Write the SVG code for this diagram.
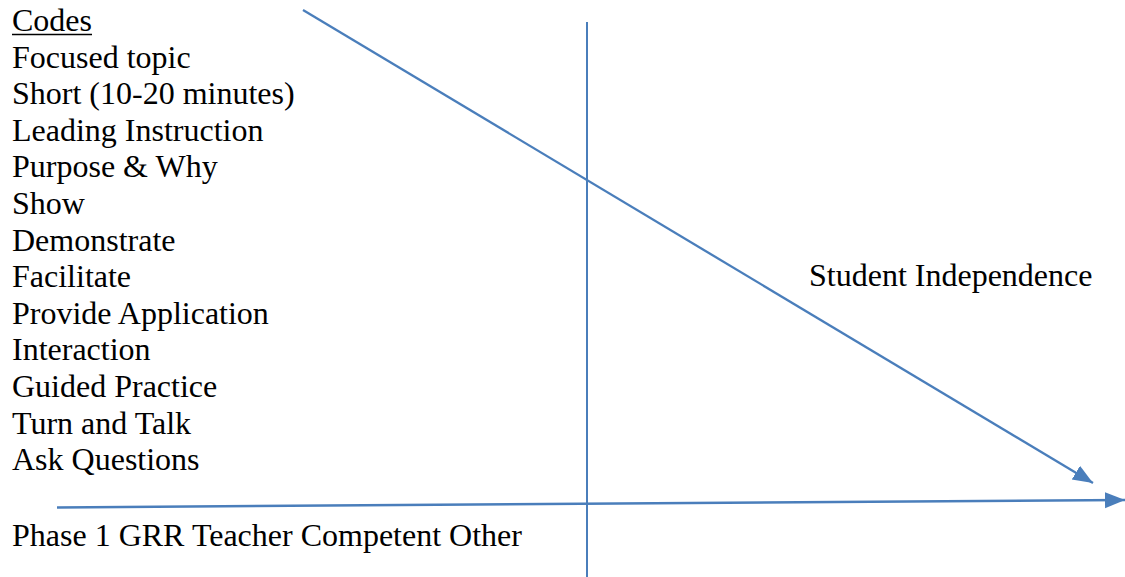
<svg xmlns="http://www.w3.org/2000/svg" width="1125" height="577" viewBox="0 0 1125 577">
<style>
text{font-family:'Liberation Serif','Times New Roman',serif;font-size:32px;fill:#000}
.c{stroke:#4A7EBB;fill:none}
</style>
<defs>
<marker id="ah" markerUnits="userSpaceOnUse" markerWidth="22" markerHeight="18" viewBox="0 0 22 18" refX="20" refY="9" orient="auto">
<path d="M0,1 L20,9 L0,17 Z" fill="#4A7EBB"/>
</marker>
</defs>
<rect width="1125" height="577" fill="#fff"/>
<g id="connectors">
<line class="c" x1="587" y1="22" x2="587" y2="577" stroke-width="2"/>
<line class="c" x1="303" y1="10" x2="1093" y2="483" stroke-width="2.3" marker-end="url(#ah)"/>
<line class="c" x1="57" y1="507.5" x2="1125" y2="500" stroke-width="2.5" marker-end="url(#ah)"/>
</g>
<g id="codes">
<text x="12" y="31">Codes</text>
<line x1="12" y1="34.5" x2="92" y2="34.5" stroke="#000" stroke-width="1.5"/>
<text x="12" y="67.6">Focused topic</text>
<text x="12" y="104.2">Short (10-20 minutes)</text>
<text x="12" y="140.8">Leading Instruction</text>
<text x="12" y="177.4">Purpose &amp; Why</text>
<text x="12" y="214">Show</text>
<text x="12" y="250.6">Demonstrate</text>
<text x="12" y="287.2">Facilitate</text>
<text x="12" y="323.8">Provide Application</text>
<text x="12" y="360.4">Interaction</text>
<text x="12" y="397">Guided Practice</text>
<text x="12" y="433.6">Turn and Talk</text>
<text x="12" y="470.2">Ask Questions</text>
</g>
<g id="student-independence">
<text x="809" y="286">Student Independence</text>
</g>
<g id="phase-label">
<text x="12" y="546">Phase 1 GRR Teacher Competent Other</text>
</g>
</svg>
